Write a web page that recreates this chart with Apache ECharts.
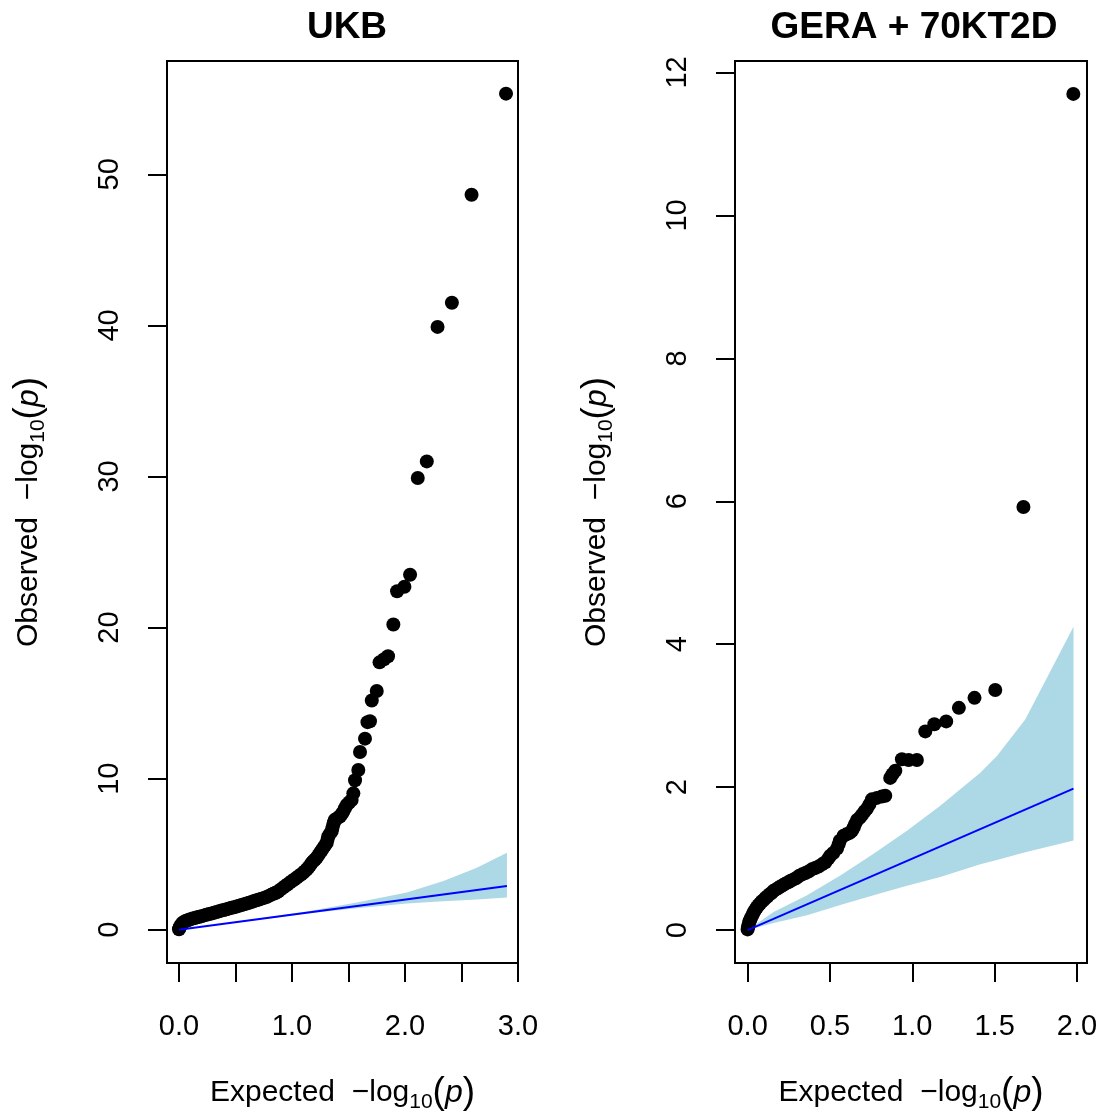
<!DOCTYPE html>
<html>
<head>
<meta charset="utf-8">
<script src="https://cdn.jsdelivr.net/npm/echarts@6/dist/echarts.min.js"></script>
<style>
html,body{margin:0;padding:0;background:#fff;}
#main{width:1105px;height:1118px;}
</style>
</head>
<body>
<div id="main"></div>
<script>
// ---- Panel titles ----
const panelTitles = ['UKB', 'GERA + 70KT2D'];

// ---- UKB: [expected, observed] ----
const ukbPoints = [
  [0.000,0.03],[0.004,0.12],[0.010,0.22],[0.018,0.32],[0.028,0.42],[0.040,0.50],[0.055,0.56],[0.070,0.61],
  [0.085,0.65],[0.100,0.69],[0.120,0.74],[0.140,0.78],[0.160,0.82],[0.180,0.86],[0.200,0.90],[0.222,0.95],
  [0.243,0.99],[0.265,1.04],[0.288,1.08],[0.310,1.13],[0.332,1.18],[0.354,1.22],[0.376,1.27],[0.398,1.31],
  [0.420,1.36],[0.442,1.40],[0.465,1.45],[0.487,1.49],[0.509,1.54],[0.531,1.59],[0.553,1.64],[0.576,1.69],
  [0.598,1.74],[0.620,1.79],[0.642,1.84],[0.664,1.90],[0.686,1.95],[0.708,2.00],[0.730,2.06],[0.753,2.11],
  [0.775,2.17],[0.795,2.24],[0.815,2.31],[0.835,2.38],[0.850,2.43],[0.863,2.46],[0.880,2.55],[0.900,2.67],
  [0.922,2.79],[0.940,2.89],[0.960,3.00],[0.981,3.12],[1.000,3.22],[1.020,3.33],[1.041,3.44],[1.060,3.55],
  [1.080,3.66],[1.099,3.77],[1.115,3.88],[1.130,4.00],[1.144,4.10],[1.160,4.26],[1.174,4.43],[1.190,4.55],
  [1.205,4.66],[1.218,4.76],[1.232,4.92],[1.247,5.09],[1.262,5.25],[1.277,5.42],[1.292,5.58],[1.307,5.75],
  [1.314,5.96],[1.321,6.18],[1.336,6.35],[1.351,6.51],[1.358,6.73],[1.365,6.95],[1.372,7.12],[1.380,7.28],
  [1.402,7.39],[1.425,7.50],[1.440,7.66],[1.454,7.82],[1.469,8.04],[1.484,8.26],[1.506,8.42],[1.528,8.59],
  [1.543,9.03],[1.558,9.90],[1.587,10.57],[1.602,11.77],[1.646,12.65],[1.668,13.74],[1.690,13.80],[1.706,15.17],
  [1.750,15.80],[1.775,17.70],[1.815,17.90],[1.850,18.10],[1.897,20.20],[1.930,22.40],[1.995,22.70],[2.045,23.50],
  [2.113,29.90],[2.193,31.00],[2.288,39.90],[2.415,41.50],[2.589,48.65],[2.894,55.34]
];
const ukbBandX     = [0.000, 0.500, 1.130, 1.573, 2.016, 2.340, 2.636, 2.902];
const ukbBandLower = [0.000, 0.470, 1.080, 1.430, 1.730, 1.880, 2.010, 2.130];
const ukbBandUpper = [0.000, 0.530, 1.210, 1.800, 2.460, 3.220, 4.100, 5.090];
const ukbNullEnd   = 2.902;
const ukbXTicks  = [0, 0.5, 1, 1.5, 2, 2.5, 3];
const ukbXLabels = [0, 1, 2, 3];
const ukbYTicks  = [0, 10, 20, 30, 40, 50];

// ---- GERA + 70KT2D: [expected, observed] ----
const geraPoints = [
  [0.000,0.01],[0.003,0.04],[0.006,0.07],[0.010,0.11],[0.015,0.14],[0.020,0.17],[0.027,0.20],[0.033,0.23],
  [0.040,0.26],[0.048,0.29],[0.057,0.32],[0.066,0.35],[0.075,0.37],[0.086,0.40],[0.097,0.42],[0.108,0.45],
  [0.120,0.47],[0.132,0.50],[0.145,0.52],[0.158,0.55],[0.172,0.57],[0.186,0.59],[0.200,0.61],[0.215,0.63],
  [0.230,0.65],[0.246,0.67],[0.262,0.69],[0.279,0.71],[0.296,0.73],[0.314,0.76],[0.332,0.78],[0.351,0.80],
  [0.370,0.82],[0.390,0.85],[0.410,0.87],[0.431,0.89],[0.452,0.92],[0.472,0.95],[0.490,1.00],[0.502,1.04],
  [0.520,1.08],[0.543,1.14],[0.553,1.20],[0.560,1.25],[0.583,1.32],[0.600,1.34],[0.620,1.36],[0.634,1.39],
  [0.645,1.44],[0.654,1.49],[0.665,1.54],[0.680,1.57],[0.694,1.61],[0.710,1.66],[0.725,1.70],[0.740,1.76],
  [0.755,1.83],[0.785,1.85],[0.815,1.87],[0.836,1.88],[0.866,2.13],[0.880,2.18],[0.897,2.23],[0.937,2.39],
  [0.978,2.38],[1.028,2.38],[1.079,2.78],[1.134,2.88],[1.206,2.92],[1.283,3.11],[1.378,3.25],[1.504,3.36],
  [1.675,5.92],[1.978,11.70]
];
const geraBandX     = [0.000, 0.158, 0.361, 0.563, 0.765, 0.968, 1.170, 1.413, 1.514, 1.686, 1.979];
const geraBandLower = [0.000, 0.100, 0.209, 0.350, 0.487, 0.620, 0.742, 0.920, 0.980, 1.090, 1.253];
const geraBandUpper = [0.000, 0.255, 0.487, 0.765, 1.067, 1.392, 1.740, 2.203, 2.436, 2.946, 4.245];
const geraNullEnd   = 1.979;
const geraXTicks  = [0, 0.5, 1, 1.5, 2];
const geraXLabels = [0, 0.5, 1, 1.5, 2];
const geraYTicks  = [0, 2, 4, 6, 8, 10, 12];

// ---- build chart ----
const FONT = "'Liberation Sans', Arial, Helvetica, sans-serif";
const richName = {
  t: {fontSize: 30, fontFamily: FONT, color: '#000', lineHeight: 40},
  s: {fontSize: 21, fontFamily: FONT, color: '#000', verticalAlign: 'bottom', lineHeight: 28},
  b: {fontSize: 37, fontFamily: FONT, color: '#000', lineHeight: 40},
  i: {fontSize: 32, fontFamily: FONT, color: '#000', fontStyle: 'italic', lineHeight: 40}
};
const xName = '{t|Expected  \u2212log}{s|10}{b|(}{i|p}{b|)}';
const yName = '{t|Observed  \u2212log}{s|10}{b|(}{i|p}{b|)}';

function xAxisDef(gi, min, max, ticks, labels, fmt) {
  return {
    type: 'value', gridIndex: gi, min: min, max: max, position: 'bottom',
    axisLine: {show: false, onZero: false},
    splitLine: {show: false},
    axisTick: {show: true, inside: false, length: 19, customValues: ticks, lineStyle: {color: '#000', width: 2}},
    axisLabel: {show: true, customValues: labels, formatter: fmt, fontSize: 29, fontFamily: FONT, color: '#000', margin: 49},
    name: xName, nameLocation: 'middle', nameGap: 110,
    nameTextStyle: {rich: richName}
  };
}
function yAxisDef(gi, min, max, ticks) {
  return {
    type: 'value', gridIndex: gi, min: min, max: max, position: 'left',
    axisLine: {show: false, onZero: false},
    splitLine: {show: false},
    axisTick: {show: true, inside: false, length: 19, customValues: ticks, lineStyle: {color: '#000', width: 2}},
    axisLabel: {show: true, customValues: ticks, rotate: 90, fontSize: 29, fontFamily: FONT, color: '#000', margin: 43,
                formatter: v => String(Math.round(v))},
    name: yName, nameLocation: 'middle', nameRotate: 90, nameGap: 118,
    nameTextStyle: {rich: richName}
  };
}
function bandSeries(gi, bx, lo, up) {
  return {
    type: 'custom', xAxisIndex: gi, yAxisIndex: gi, silent: true, z: 1,
    data: [0],
    renderItem: function (params, api) {
      const pts = [];
      for (let i = 0; i < bx.length; i++) pts.push(api.coord([bx[i], up[i]]));
      for (let i = bx.length - 1; i >= 0; i--) pts.push(api.coord([bx[i], lo[i]]));
      return {type: 'polygon', shape: {points: pts}, style: {fill: '#ADD8E6', stroke: null}};
    }
  };
}
function pointSeries(gi, pts) {
  return {
    type: 'scatter', xAxisIndex: gi, yAxisIndex: gi, data: pts, symbol: 'circle', symbolSize: 14,
    itemStyle: {color: '#000', opacity: 1}, silent: true, z: 2, animation: false
  };
}
function nullLine(gi, end) {
  return {
    type: 'line', xAxisIndex: gi, yAxisIndex: gi, data: [[0, 0], [end, end]], symbol: 'none',
    lineStyle: {color: '#0000FF', width: 2}, silent: true, z: 3, animation: false
  };
}

const option = {
  animation: false,
  backgroundColor: '#fff',
  title: [
    {text: panelTitles[0], left: 342, top: 4, textAlign: 'center',
     textStyle: {fontSize: 37, fontWeight: 'bold', fontFamily: FONT, color: '#000'}},
    {text: panelTitles[1], left: 909, top: 4, textAlign: 'center',
     textStyle: {fontSize: 37, fontWeight: 'bold', fontFamily: FONT, color: '#000'}}
  ],
  grid: [
    {left: 167, top: 61, width: 351, height: 907, show: true, borderColor: '#000', borderWidth: 2, backgroundColor: 'transparent'},
    {left: 735, top: 61, width: 352, height: 907, show: true, borderColor: '#000', borderWidth: 2, backgroundColor: 'transparent'}
  ],
  xAxis: [
    xAxisDef(0, -0.106, 3.0, ukbXTicks, ukbXLabels, v => Number(v).toFixed(1)),
    xAxisDef(1, -0.0765, 2.061, geraXTicks, geraXLabels, v => Number(v).toFixed(1))
  ],
  yAxis: [
    yAxisDef(0, -2.2, 57.5, ukbYTicks),
    yAxisDef(1, -0.46, 12.16, geraYTicks)
  ],
  series: [
    bandSeries(0, ukbBandX, ukbBandLower, ukbBandUpper),
    pointSeries(0, ukbPoints),
    nullLine(0, ukbNullEnd),
    bandSeries(1, geraBandX, geraBandLower, geraBandUpper),
    pointSeries(1, geraPoints),
    nullLine(1, geraNullEnd)
  ]
};
const chart = echarts.init(document.getElementById('main'));
chart.setOption(option);
</script>
</body>
</html>
